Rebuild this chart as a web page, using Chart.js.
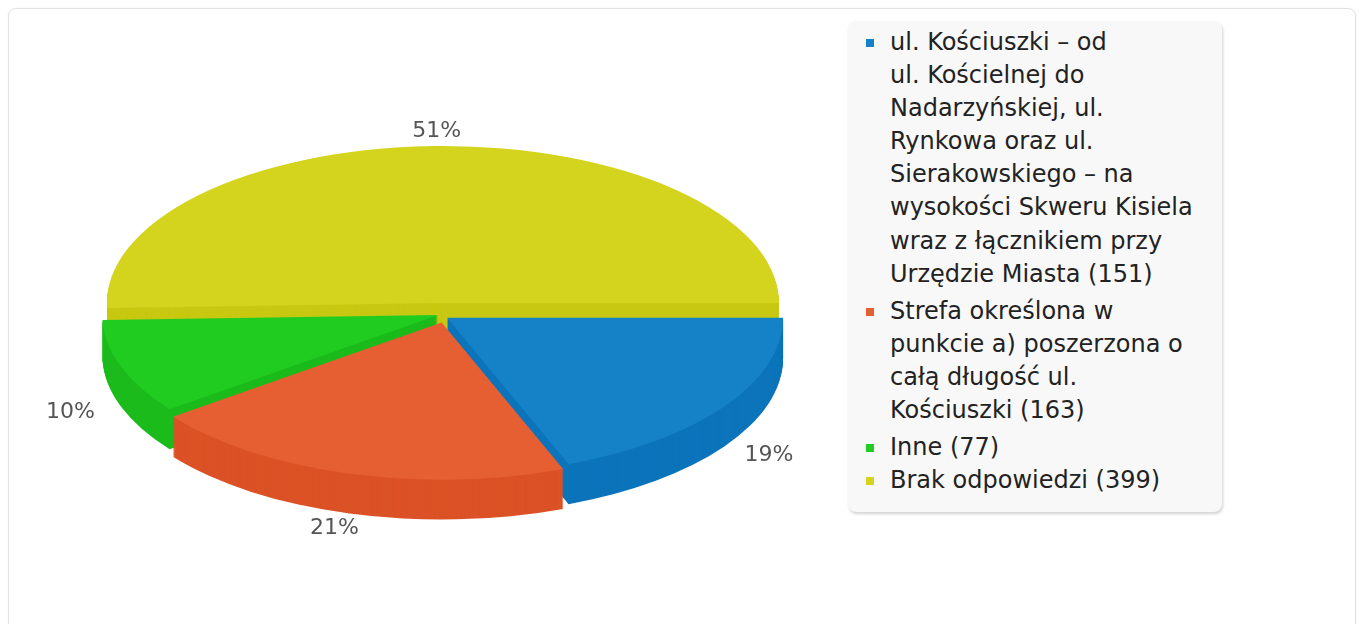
<!DOCTYPE html>
<html>
<head>
<meta charset="utf-8">
<script src="https://cdn.jsdelivr.net/npm/chart.js@4.4.1/dist/chart.umd.min.js"></script>
<style>
  html, body { margin:0; padding:0; background:#fff; overflow:hidden; width:1362px; height:624px; font-family:"DejaVu Sans", sans-serif; }
  #card { position:absolute; left:8px; top:8px; width:1348px; height:650px; box-sizing:border-box; border:1px solid #e2e2e2; border-radius:8px; box-shadow:0 0 3px rgba(0,0,0,0.05); }
  #wrap { position:absolute; left:0; top:0; width:840px; height:624px; }
  #legend { position:absolute; left:848px; top:21px; width:374px; height:491px; box-sizing:border-box; background:#f8f8f8; border-radius:8px; box-shadow:1px 2px 3px rgba(0,0,0,0.18); padding-top:5px; }
  .item { position:relative; padding-left:42px; font-size:24px; line-height:33.1px; color:#222; margin-bottom:4px; white-space:nowrap; }
  .item:nth-child(3) { margin-bottom:0; }
  .item .sw { position:absolute; left:18px; top:13px; width:8px; height:8px; }
</style>
</head>
<body>
<div id="card"></div>
<div id="wrap"><canvas id="c"></canvas></div>
<div id="legend"></div>
<script>
// ---- data ----
const categories = [
  ["ul. Kościuszki – od", "ul. Kościelnej do", "Nadarzyńskiej, ul.", "Rynkowa oraz ul.", "Sierakowskiego – na", "wysokości Skweru Kisiela", "wraz z łącznikiem przy", "Urzędzie Miasta"],
  ["Strefa określona w", "punkcie a) poszerzona o", "całą długość ul.", "Kościuszki"],
  ["Inne"],
  ["Brak odpowiedzi"]
];
const responses = [151, 163, 77, 399];

// ---- styles ----
const topColors  = ["#1582c8", "#e65f33", "#20cc20", "#d4d41e"];
const sideColors = ["#0b74bb", "#db5226", "#1bbb1b", "#c8c812"];
const CX = 443, CY = 303, RX = 336, RY = 157, DEPTH = 40;
const LABEL_RX = 390, LABEL_RY = 172;

const total = responses.reduce((a, b) => a + b, 0);
const percentLabels = responses.map(v => Math.round(v / total * 100) + "%");

// screen-space explosion of a slice (front slices pushed down/out)
function explode(mid) {
  const s = Math.sin(mid);
  return { x: 5 * Math.cos(mid), y: s > 0 ? 8 + 12 * s : 0 };
}

const pie3d = {
  id: 'pie3d',
  beforeDatasetDraw(chart) {
    const ctx = chart.ctx;
    const arcs = chart.getDatasetMeta(0).data;
    const a0 = arcs[0];
    const R = a0.outerRadius;
    const sx = RX / R, sy = RY / R;
    const setT = (e, dy) => {
      ctx.translate(CX + e.x, CY + e.y + dy);
      ctx.scale(sx, sy);
      ctx.translate(-a0.x, -a0.y);
    };
    const order = [3, 0, 1, 2];
    // extruded sides
    for (let d = DEPTH; d >= 1; d--) {
      order.forEach(i => {
        const arc = arcs[i];
        const p = arc.getProps(['x', 'y', 'startAngle', 'endAngle', 'outerRadius'], true);
        const e = explode((p.startAngle + p.endAngle) / 2);
        ctx.save();
        setT(e, d);
        ctx.beginPath();
        ctx.moveTo(p.x, p.y);
        ctx.arc(p.x, p.y, p.outerRadius, p.startAngle, p.endAngle);
        ctx.closePath();
        ctx.fillStyle = sideColors[i];
        ctx.fill();
        ctx.restore();
      });
    }
    // top faces drawn by Chart.js arc elements
    order.forEach(i => {
      const arc = arcs[i];
      const e = explode((arc.startAngle + arc.endAngle) / 2);
      ctx.save();
      setT(e, 0);
      arc.draw(ctx);
      ctx.restore();
    });
    // percentage labels
    ctx.save();
    ctx.font = '22px "DejaVu Sans"';
    ctx.fillStyle = '#555';
    ctx.textAlign = 'center';
    ctx.textBaseline = 'middle';
    arcs.forEach((arc, i) => {
      const mid = (arc.startAngle + arc.endAngle) / 2;
      const e = explode(mid);
      const s = Math.sin(mid);
      const x = CX + e.x + LABEL_RX * Math.cos(mid);
      const y = CY + e.y + LABEL_RY * s + (s > 0 ? DEPTH : 0);
      ctx.fillText(percentLabels[i], x, y);
    });
    ctx.restore();
    return false;
  }
};

const chart = new Chart(document.getElementById('c'), {
  type: 'pie',
  data: {
    labels: categories.map(l => l.join(' ')),
    datasets: [{
      data: responses,
      backgroundColor: topColors,
      borderWidth: 0,
      offset: 0,
      hoverOffset: 0
    }]
  },
  options: {
    responsive: true,
    maintainAspectRatio: false,
    animation: false,
    rotation: 90,
    events: [],
    layout: { padding: 0 },
    plugins: { legend: { display: false }, tooltip: { enabled: false } }
  },
  plugins: [pie3d]
});

// HTML legend built from the chart data
const legend = document.getElementById('legend');
chart.data.datasets[0].data.forEach((v, i) => {
  const item = document.createElement('div');
  item.className = 'item';
  const sw = document.createElement('span');
  sw.className = 'sw';
  sw.style.background = topColors[i];
  item.appendChild(sw);
  const lines = categories[i].slice();
  lines[lines.length - 1] += ' (' + v + ')';
  lines.forEach(t => {
    const ln = document.createElement('div');
    ln.textContent = t;
    item.appendChild(ln);
  });
  legend.appendChild(item);
});
</script>
</body>
</html>
